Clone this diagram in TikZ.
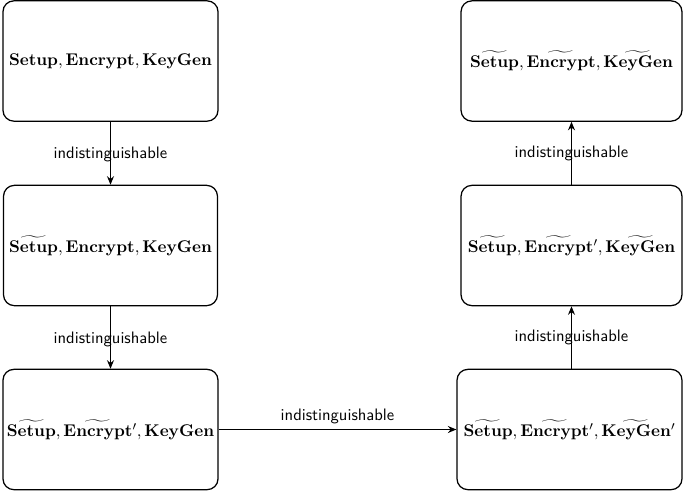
\documentclass[tikz,border=0pt]{standalone}
\usepackage{amsmath}
\usetikzlibrary{arrows.meta}
\begin{document}
\begin{tikzpicture}[x=0.645pt,y=-0.645pt,
  box/.style={draw, line width=0.8pt, rounded corners=7pt, minimum height=77.6pt, inner sep=0pt, font=\fontsize{10.9}{13}\selectfont},
  conn/.style={line width=1.1pt, -{Stealth[length=5.5pt,width=4.5pt]}},
  lab/.style={font=\sffamily\fontsize{10.7}{13}\selectfont}]
\useasboundingbox (0,0) rectangle (685,492);
\node[box, minimum width=138.7pt] (b1) at (110.5,61) {$\mathbf{Setup}, \mathbf{Encrypt}, \mathbf{KeyGen}$};
\node[box, minimum width=138.0pt] (b2) at (110.5,245.5) {$\widetilde{\mathbf{Setup}}, \mathbf{Encrypt}, \mathbf{KeyGen}$};
\node[box, minimum width=138.7pt] (b3) at (110.5,429.5) {$\widetilde{\mathbf{Setup}}, \widetilde{\mathbf{Encrypt}}{}', \mathbf{KeyGen}$};
\node[box, minimum width=145.1pt] (b4) at (569.5,429.5) {$\widetilde{\mathbf{Setup}}, \widetilde{\mathbf{Encrypt}}{}', \widetilde{\mathbf{KeyGen}}{}'$};
\node[box, minimum width=142.5pt] (b5) at (571.5,245.5) {$\widetilde{\mathbf{Setup}}, \widetilde{\mathbf{Encrypt}}{}', \widetilde{\mathbf{KeyGen}}$};
\node[box, minimum width=142.5pt] (b6) at (571.5,61) {$\widetilde{\mathbf{Setup}}, \widetilde{\mathbf{Encrypt}}, \widetilde{\mathbf{KeyGen}}$};
\draw[conn] (b1) -- node[lab, yshift=-1pt] {indistinguishable} (b2);
\draw[conn] (b2) -- node[lab, yshift=-1pt] {indistinguishable} (b3);
\draw[conn] (b3) -- node[lab, above=0pt] {indistinguishable} (b4);
\draw[conn] (b5.south |- b4.north) -- node[lab] {indistinguishable} (b5.south);
\draw[conn] (b5) -- node[lab] {indistinguishable} (b6);
\end{tikzpicture}
\end{document}
